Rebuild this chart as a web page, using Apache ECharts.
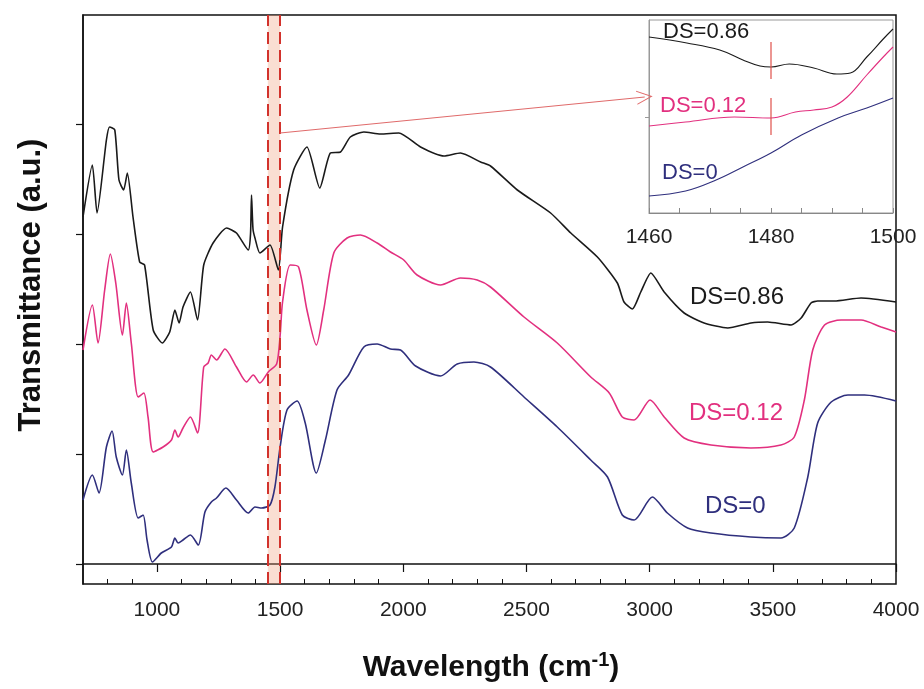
<!DOCTYPE html>
<html><head><meta charset="utf-8">
<script src="https://cdn.jsdelivr.net/npm/echarts@6/dist/echarts.min.js"></script>
<style>html,body{margin:0;padding:0;background:#fff}#c{width:924px;height:689px}</style>
</head><body><div id="c"></div>
<script>
// Main spectra (wavenumber, transmittance a.u., offset stacked)
const xBlack = [700,738,757,795,808,829,846,865,880,903,930,950,985,1022,1052,1073,1090,1106,1136,1165,1190,1228,1283,1323,1371,1380,1384,1390,1398,1418,1459,1493,1510,1555,1609,1661,1704,1745,1785,1840,1907,1982,2070,2165,2232,2314,2354,2463,2598,2680,2788,2869,2896,2930,2964,3005,3059,3140,3221,3317,3411,3479,3574,3615,3655,3682,3750,3858,4000];
const yBlack = [347,399,351,424,437,434,384,374,391,347,302,299,234,221,232,254,241,257,272,244,299,321,336,331,314,330,369,335,326,311,319,294,337,394,417,376,411,412,427,432,430,431,417,408,411,402,398,374,351,331,307,281,262,255,272,291,272,251,241,236,241,242,239,246,261,263,263,266,262];
const xPink = [700,738,761,788,811,833,860,876,896,924,947,964,985,1025,1059,1073,1086,1106,1136,1165,1190,1208,1221,1242,1276,1323,1364,1391,1418,1452,1486,1500,1510,1541,1575,1609,1647,1677,1718,1772,1826,1894,1948,2002,2056,2151,2232,2300,2354,2490,2625,2761,2836,2889,2937,3002,3059,3140,3249,3411,3533,3587,3628,3662,3710,3777,3858,3940,4000];
const yPink = [214,259,221,274,310,281,229,261,221,167,171,147,112,117,124,134,127,136,147,131,197,201,209,204,215,197,182,189,181,192,200,228,262,299,297,254,219,254,311,326,329,321,312,304,289,279,286,284,277,247,221,187,171,147,144,164,147,126,119,116,119,127,164,214,239,244,244,237,232];
const xBlue = [700,738,765,795,818,835,860,876,896,924,944,960,982,1018,1059,1073,1086,1106,1136,1168,1195,1221,1242,1280,1323,1371,1398,1425,1459,1479,1500,1528,1569,1602,1647,1684,1731,1778,1840,1894,1948,1989,2050,2151,2219,2287,2354,2490,2625,2761,2829,2889,2937,3011,3072,3154,3249,3411,3533,3587,3642,3682,3737,3805,3872,4000];
const yBlue = [64,89,71,117,133,107,89,114,81,46,49,24,2,11,17,26,21,24,29,19,52,62,66,76,64,51,57,56,59,77,117,154,163,141,91,124,174,189,217,220,215,214,198,188,200,202,197,167,137,104,87,49,44,67,51,36,31,27,26,36,87,141,162,169,169,163];

// Inset (1460-1500 cm-1)
const xInBlack = [1460,1466.2,1471.6,1475.4,1478.2,1480,1483,1487,1490.8,1493,1495.7,1498.4,1500];
const yInBlack = [176,170,163,153,147,146,149,145,139,140,156,174,184];
const xInPink = [1460,1466,1474,1480,1484,1487,1490,1492.5,1495.7,1498.4,1500];
const yInPink = [87,91,96,95,101,103,106,116,138,156,166];
const xInBlue = [1460,1466,1471,1475.4,1480,1485,1491,1495.7,1500];
const yInBlue = [17,22,33,46,60,78,95,105,115];
const markerX = 1480;
const markerBlack = [134,171];
const markerPink = [78,115];

// Axis ticks
const xMajorTicks = [1000,1500,2000,2500,3000,3500,4000];
const xMinorTicks = [800,900,1100,1200,1300,1400,1600,1700,1800,1900,2100,2200,2300,2400,2600,2700,2800,2900,3100,3200,3300,3400,3600,3700,3800,3900];
const yTicks = [0,110,220,330,440];
const band = [1450,1500];
const arrowFrom = [1500,431];
const arrowTo = [2980,467];

const C_BLACK = '#1a1a1a', C_PINK = '#e2307f', C_BLUE = '#2f2f7d';
const zip = (a,b) => a.map((v,i)=>[v,b[i]]);
const FONT = 'Liberation Sans, Arial, sans-serif';
const plain = v => String(v);

const chart = echarts.init(document.getElementById('c'), null, {renderer:'canvas'});
chart.setOption({
  animation:false,
  backgroundColor:'#fff',
  grid:[
    {left:83, top:15, width:813, height:569, show:true, borderColor:'#111', borderWidth:1.5, containLabel:false},
    {left:649, top:20, width:244, height:193, show:true, borderColor:'#999', borderWidth:1, backgroundColor:'#fff', containLabel:false}
  ],
  xAxis:[
    {gridIndex:0, type:'value', min:700, max:4000,
     axisLine:{show:true, lineStyle:{color:'#111', width:1.5}},
     axisTick:{show:true, customValues:xMajorTicks, length:8, lineStyle:{color:'#111', width:1.2}},
     axisLabel:{show:true, customValues:xMajorTicks, formatter:plain, fontSize:21, color:'#222', fontFamily:FONT, margin:16},
     splitLine:{show:false}},
    {gridIndex:1, type:'value', min:1460, max:1500, interval:20,
     axisLine:{show:true, lineStyle:{color:'#888', width:1}},
     axisTick:{show:true, inside:true, length:5, lineStyle:{color:'#888'}},
     minorTick:{show:true, splitNumber:4, length:5, lineStyle:{color:'#888'}},
     axisLabel:{fontSize:21, formatter:plain, color:'#222', fontFamily:FONT, margin:14},
     splitLine:{show:false}},
    {gridIndex:0, type:'value', min:700, max:4000, position:'bottom',
     axisLine:{show:false},
     axisTick:{show:true, inside:true, customValues:xMinorTicks, length:5, lineStyle:{color:'#111', width:1}},
     axisLabel:{show:false}, splitLine:{show:false}}
  ],
  yAxis:[
    {gridIndex:0, type:'value', min:-20, max:549,
     axisLine:{show:true, lineStyle:{color:'#111', width:1.5}},
     axisTick:{show:true, customValues:yTicks, length:7, lineStyle:{color:'#111', width:1.2}},
     axisLabel:{show:false}, splitLine:{show:false}},
    {gridIndex:1, type:'value', min:0, max:193,
     axisLine:{show:true, lineStyle:{color:'#999', width:1}},
     axisTick:{show:true, customValues:[96], length:4, lineStyle:{color:'#999'}},
     axisLabel:{show:false}, splitLine:{show:false}}
  ],
  series:[
    {type:'line', name:'DS=0.86', xAxisIndex:0, yAxisIndex:0, data:zip(xBlack,yBlack), showSymbol:false, smooth:0.2,
     lineStyle:{color:C_BLACK, width:1.6}, z:3,
     markArea:{silent:true, itemStyle:{color:'rgba(242,160,125,0.35)'}, data:[[{xAxis:band[0]},{xAxis:band[1]}]]},
     markLine:{silent:true, symbol:'none', label:{show:false},
       data:[
         {xAxis:band[0], lineStyle:{color:'#d2322c', width:2, type:[12,6]}},
         {xAxis:band[1], lineStyle:{color:'#d2322c', width:2, type:[12,6]}},
         [{coord:arrowFrom, symbol:'none'},
          {coord:arrowTo, symbol:'path://M0,20 L10,0 L20,20 L18.5,20 L10,3 L1.5,20 Z', symbolSize:[14,16], lineStyle:{color:'#e06a6a', width:1, type:'solid'}}]
       ]}},
    {type:'line', name:'DS=0.12', xAxisIndex:0, yAxisIndex:0, data:zip(xPink,yPink), showSymbol:false, smooth:0.25,
     lineStyle:{color:C_PINK, width:1.6}, z:3},
    {type:'line', name:'DS=0', xAxisIndex:0, yAxisIndex:0, data:zip(xBlue,yBlue), showSymbol:false, smooth:0.25,
     lineStyle:{color:C_BLUE, width:1.6}, z:3},
    {type:'line', xAxisIndex:1, yAxisIndex:1, data:zip(xInBlack,yInBlack), showSymbol:false, smooth:0.4,
     lineStyle:{color:C_BLACK, width:1.1}},
    {type:'line', xAxisIndex:1, yAxisIndex:1, data:zip(xInPink,yInPink), showSymbol:false, smooth:0.4,
     lineStyle:{color:C_PINK, width:1.1}},
    {type:'line', xAxisIndex:1, yAxisIndex:1, data:zip(xInBlue,yInBlue), showSymbol:false, smooth:0.4,
     lineStyle:{color:C_BLUE, width:1.1}},
    {type:'line', xAxisIndex:1, yAxisIndex:1, data:markerBlack.map(v=>[markerX,v]), showSymbol:false,
     lineStyle:{color:'#e0504a', width:1.2}},
    {type:'line', xAxisIndex:1, yAxisIndex:1, data:markerPink.map(v=>[markerX,v]), showSymbol:false,
     lineStyle:{color:'#e0504a', width:1.2}}
  ],
  graphic:[
    {type:'text', left:690, top:285, style:{text:'DS=0.86', fill:C_BLACK, font:'24px '+FONT}},
    {type:'text', left:689, top:401, style:{text:'DS=0.12', fill:C_PINK, font:'24px '+FONT}},
    {type:'text', left:705, top:494, style:{text:'DS=0', fill:C_BLUE, font:'24px '+FONT}},
    {type:'text', left:663, top:21, style:{text:'DS=0.86', fill:C_BLACK, font:'22px '+FONT}},
    {type:'text', left:660, top:95, style:{text:'DS=0.12', fill:C_PINK, font:'22px '+FONT}},
    {type:'text', left:662, top:162, style:{text:'DS=0', fill:C_BLUE, font:'22px '+FONT}},
    {type:'text', x:31, y:285, rotation:Math.PI/2,
     style:{text:'Transmittance (a.u.)', fill:'#111', font:'bold 31px '+FONT, align:'center', verticalAlign:'middle'}},
    {type:'text', x:491, y:668,
     style:{text:'Wavelength (cm{sup|-1})', fill:'#111', font:'bold 30px '+FONT, align:'center', verticalAlign:'middle',
       rich:{sup:{font:'bold 20px '+FONT, fill:'#111', padding:[0,0,16,0]}}}}
  ]
});
</script></body></html>
